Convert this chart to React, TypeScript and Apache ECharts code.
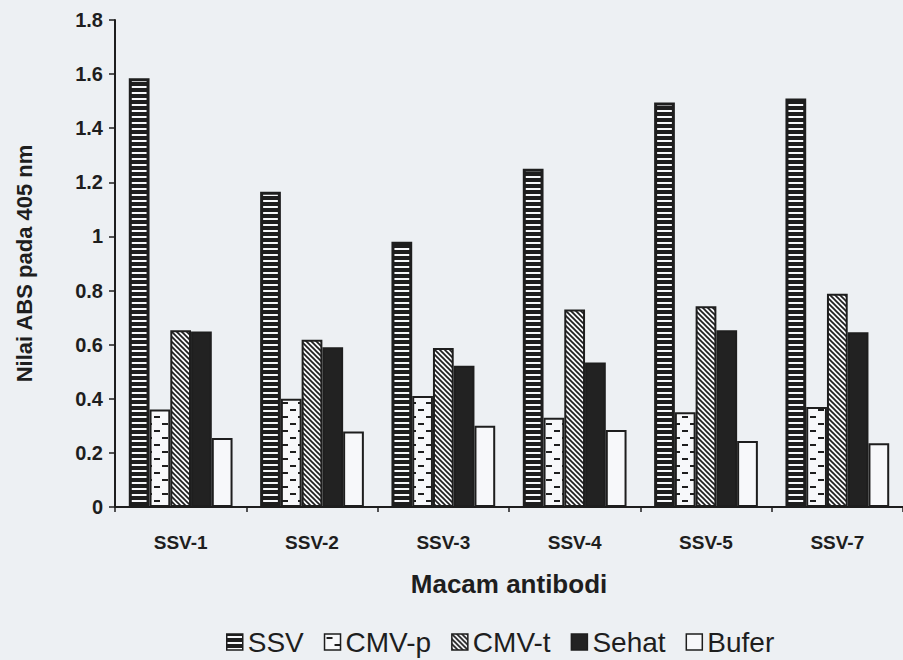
import React, { useEffect, useRef } from "react";
import * as echarts from "echarts";

const categories = ["SSV-1", "SSV-2", "SSV-3", "SSV-4", "SSV-5", "SSV-7"];
const seriesNames = ["SSV", "CMV-p", "CMV-t", "Sehat", "Bufer"];
const ssv = [1.585, 1.165, 0.98, 1.25, 1.495, 1.51];
const cmvP = [0.36, 0.4, 0.41, 0.33, 0.35, 0.37];
const cmvT = [0.653, 0.618, 0.588, 0.73, 0.742, 0.788];
const sehat = [0.649, 0.59, 0.522, 0.534, 0.653, 0.646];
const bufer = [0.255, 0.279, 0.3, 0.285, 0.244, 0.236];
const yTicks = [0, 0.2, 0.4, 0.6, 0.8, 1, 1.2, 1.4, 1.6, 1.8];

const INK = "#1e1e1e";
const PAPER = "#edf0f3";
const WHITE = "#f7f8fa";
const SANS = "Liberation Sans, Arial, sans-serif";

function makeCanvas(w: number, h: number, draw: (ctx: CanvasRenderingContext2D) => void) {
  const c = document.createElement("canvas");
  c.width = w;
  c.height = h;
  const ctx = c.getContext("2d")!;
  draw(ctx);
  return { image: c, repeat: "repeat", imageWidth: w, imageHeight: h } as any;
}

function patterns() {
  const stripes = makeCanvas(8, 6, (ctx) => {
    ctx.fillStyle = INK;
    ctx.fillRect(0, 0, 8, 6);
    ctx.fillStyle = WHITE;
    ctx.fillRect(0, 2, 8, 2);
  });
  const dashes = makeCanvas(16, 14, (ctx) => {
    ctx.fillStyle = WHITE;
    ctx.fillRect(0, 0, 16, 14);
    ctx.fillStyle = INK;
    ctx.fillRect(2, 3, 6, 2);
    ctx.fillRect(10, 10, 6, 2);
  });
  const hatch = makeCanvas(5, 5, (ctx) => {
    ctx.fillStyle = WHITE;
    ctx.fillRect(0, 0, 5, 5);
    ctx.strokeStyle = INK;
    ctx.lineWidth = 1.7;
    for (const x0 of [-5, 0, 5]) {
      ctx.beginPath();
      ctx.moveTo(x0 - 1, -1);
      ctx.lineTo(x0 + 6, 6);
      ctx.stroke();
    }
  });
  return { stripes, dashes, hatch };
}

export default function App() {
  const ref = useRef<HTMLDivElement>(null);
  useEffect(() => {
    if (!ref.current) return;
    const chart = echarts.init(ref.current, null, { renderer: "svg" });
    const p = patterns();
    const fills = [p.stripes, p.dashes, p.hatch, "#222222", WHITE];
    const borders = [3, 2, 2, 2, 2];
    const values = [ssv, cmvP, cmvT, sehat, bufer];
    chart.setOption({
      animation: false,
      backgroundColor: PAPER,
      textStyle: { fontFamily: SANS, color: INK },
      grid: { left: 115, right: -10, top: 20, bottom: 153, containLabel: false },
      legend: {
        top: 628,
        left: 226,
        padding: 0,
        itemWidth: 16,
        itemHeight: 16,
        itemGap: 20,
        textStyle: { fontSize: 28, lineHeight: 28, color: INK, fontFamily: SANS },
        data: seriesNames.map((n, i) => ({
          name: n,
          icon: "rect",
          itemStyle: { color: fills[i], borderColor: INK, borderWidth: 1.5 },
        })),
      },
      xAxis: {
        type: "category",
        data: categories,
        name: "Macam antibodi",
        nameLocation: "middle",
        nameGap: 64,
        nameTextStyle: { fontSize: 26, fontWeight: "bold", color: INK },
        axisLine: { lineStyle: { color: INK, width: 2 } },
        axisTick: { show: true, length: 5, lineStyle: { color: INK, width: 1.5 } },
        axisLabel: { fontSize: 19, fontWeight: "bold", color: INK, margin: 26 },
      },
      yAxis: {
        type: "value",
        min: 0,
        max: 1.8,
        interval: 0.2,
        name: "Nilai ABS pada 405 nm",
        nameLocation: "middle",
        nameGap: 80,
        nameTextStyle: { fontSize: 22, fontWeight: "bold", color: INK },
        splitLine: { show: false },
        axisLine: { show: true, lineStyle: { color: INK, width: 2 } },
        axisTick: { show: true, length: 6, lineStyle: { color: INK, width: 1.5 } },
        axisLabel: {
          fontSize: 20,
          fontWeight: "bold",
          color: INK,
          margin: 12,
          formatter: (v: number) => {
            const t = yTicks.find((x) => Math.abs(x - v) < 1e-6);
            return t === undefined ? "" : String(t);
          },
        },
      },
      series: seriesNames.map((n, i) => ({
        name: n,
        type: "bar",
        data: values[i],
        barGap: "0%",
        barCategoryGap: "21%",
        itemStyle: { color: fills[i], borderColor: INK, borderWidth: borders[i] },
      })),
    });
    return () => chart.dispose();
  }, []);
  return <div ref={ref} style={{ width: 903, height: 660, position: "absolute", left: 0, top: 0 }} />;
}
